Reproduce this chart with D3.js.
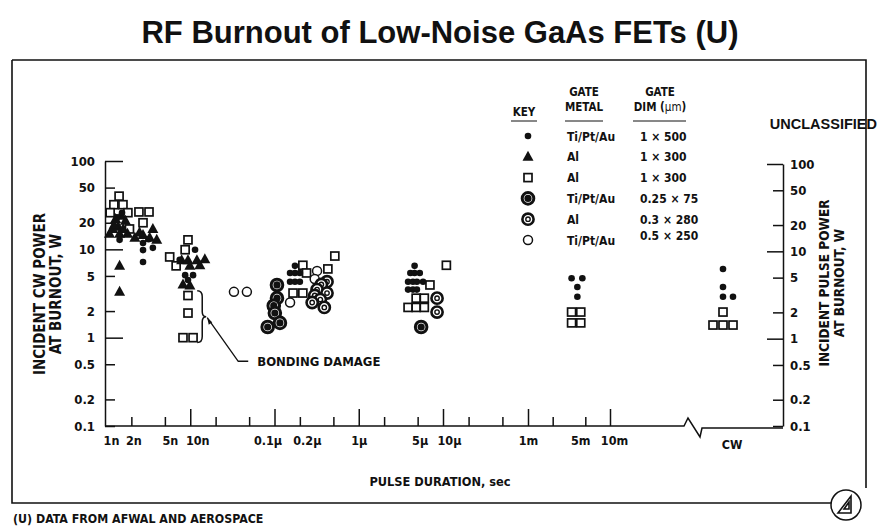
<!DOCTYPE html>
<html>
<head>
<meta charset="utf-8">
<script src="https://cdn.jsdelivr.net/npm/d3@7"></script>
<style>
  html, body { margin: 0; padding: 0; background: #fff; }
  svg { display: block; }
</style>
</head>
<body>
<svg id="chart" width="878" height="529"></svg>
<script>
// ---- axis ticks ----
const yTicks = [0.1, 0.2, 0.5, 1, 2, 5, 10, 20, 50, 100];
const yTickLabels = ["0.1", "0.2", "0.5", "1", "2", "5", "10", "20", "50", "100"];
const yMajor = [1, 10, 100];
const xTicks = [1e-9, 2e-9, 5e-9, 1e-8, 2e-8, 5e-8, 1e-7, 2e-7, 5e-7, 1e-6, 2e-6, 5e-6, 1e-5, 4e-5, 2.5e-4, 1e-3, 2e-3, 5e-3, 1e-2];
const xMajor = [1e-8, 1e-7, 1e-6, 1e-5, 1e-3, 1e-2];
const xLabelValues = [1e-9, 2e-9, 5e-9, 1e-8, 1e-7, 2e-7, 1e-6, 5e-6, 1e-5, 1e-3, 5e-3, 1e-2];
const xLabelTexts = ["1n", "2n", "5n", "10n", "0.1\u03bc", "0.2\u03bc", "1\u03bc", "5\u03bc", "10\u03bc", "1m", "5m", "10m"];

// ---- key ----
const keyKinds = ["dot", "tri", "sq", "ringDot", "ringRing", "open"];
const keyMetals = ["Ti/Pt/Au", "Al", "Al", "Ti/Pt/Au", "Al", "Ti/Pt/Au"];
const keyDims = ["1 \u00d7 500", "1 \u00d7 300", "1 \u00d7 300", "0.25 \u00d7 75", "0.3 \u00d7 280", "0.5 \u00d7 250"];

// ---- burnout data: [pulse duration (s), incident power (W)] ----
const tiPtAu1x500 = [
  [1.45e-9, 12.8], [1.55e-9, 26], [1.35e-9, 23],
  [2.75e-9, 11.8], [2.75e-9, 9.8], [3.6e-9, 10.4], [2.75e-9, 7.2], [3.2e-9, 13],
  [11.4e-9, 9.9], [7.5e-9, 7.6], [8.7e-9, 5.1], [10.8e-9, 5.1], [9.4e-9, 4.5],
  [0.175e-6, 6.5], [0.153e-6, 5.4], [0.175e-6, 5.4], [0.2e-6, 5.4], [0.153e-6, 4.3], [0.175e-6, 4.3], [0.2e-6, 4.3],
  [4.6e-6, 6.5], [4.1e-6, 5.4], [4.6e-6, 5.4], [5.3e-6, 5.4], [3.85e-6, 4.3], [4.4e-6, 4.3], [4.9e-6, 4.3], [5.8e-6, 4.3],
  [3.85e-6, 3.5], [4.4e-6, 3.5], [4.9e-6, 3.5],
  [3.4e-3, 4.7], [4.6e-3, 4.7], [4.0e-3, 3.75], [4.0e-3, 2.9]
];
const al1x300Solid = [
  [1.2e-9, 17], [1.4e-9, 18], [1.6e-9, 17], [1.3e-9, 22], [1.5e-9, 24], [1.7e-9, 21], [1.1e-9, 15], [1.45e-9, 15],
  [1.8e-9, 15], [1.25e-9, 19], [1.45e-9, 6.5], [1.45e-9, 3.3],
  [2.2e-9, 13.5], [2.75e-9, 14.5], [3.6e-9, 17], [3.3e-9, 13.5], [4.0e-9, 12.8], [2.5e-9, 15.5],
  [7.9e-9, 7.5], [9.4e-9, 7.5], [12e-9, 7.5], [14.9e-9, 7.7], [9.9e-9, 6.5], [13e-9, 6.6], [8.2e-9, 4.0], [9.9e-9, 3.9]
];
const al1x300Open = [
  [1.43e-9, 40], [1.24e-9, 32], [1.59e-9, 32], [1.12e-9, 26], [1.82e-9, 26], [1.9e-9, 17],
  [2.46e-9, 26.5], [3.24e-9, 26.5], [2.75e-9, 20],
  [9.4e-9, 12.8], [8.7e-9, 9.9], [5.7e-9, 8.2], [6.8e-9, 6.5], [9.4e-9, 3.0], [9.4e-9, 1.9], [8.2e-9, 1.0], [10.8e-9, 1.0],
  [0.217e-6, 6.6], [0.24e-6, 5.4], [0.166e-6, 3.2], [0.217e-6, 3.2], [0.43e-6, 6.0], [0.52e-6, 8.4],
  [7.0e-6, 3.95], [4.8e-6, 2.8], [6.0e-6, 2.8], [3.85e-6, 2.2], [4.8e-6, 2.2], [6.0e-6, 2.2], [12e-6, 6.6],
  [3.4e-3, 1.95], [4.4e-3, 1.95], [3.4e-3, 1.47], [4.4e-3, 1.47]
];
const tiPtAu025x75 = [
  [0.107e-6, 3.95], [0.107e-6, 2.8], [0.098e-6, 2.3], [0.101e-6, 1.9], [0.116e-6, 1.47], [0.083e-6, 1.32],
  [5.5e-6, 1.32]
];
const al03x280 = [
  [0.42e-6, 4.3], [0.36e-6, 4.0], [0.32e-6, 3.5], [0.42e-6, 3.2], [0.30e-6, 3.0], [0.35e-6, 2.7], [0.28e-6, 2.5], [0.39e-6, 2.2],
  [8.5e-6, 2.8], [8.5e-6, 1.95]
];
const tiPtAu05x250 = [
  [33e-9, 3.3], [47e-9, 3.3], [0.32e-6, 5.7], [0.3e-6, 4.6], [0.153e-6, 2.5]
];
// CW tests: [column in the CW stack, incident power (W)]
const cwTiPtAu1x500 = [[0, 6.0], [0, 3.75], [0, 2.9], [1, 2.9]];
const cwAl1x300Open = [[0, 1.95], [-1, 1.39], [0, 1.39], [1, 1.39]];

// ---- layout ----
const svg = d3.select("#chart");
const COND = "'Liberation Sans Narrow','DejaVu Sans Condensed','Arial Narrow',sans-serif";
const WIDE = "'Liberation Sans',Arial,Helvetica,sans-serif";
const ink = "#111";

const plotLeft = 105, plotRight = 783, plotBottom = 426;
const y = d3.scaleLog().domain([0.1, 100]).range([plotBottom, 161]);
const yR = d3.scaleLog().domain([0.1, 100]).range([plotBottom, 164]);
// pulse-duration axis: log decades, with the 10 µs – 1 ms span drawn as one decade width
const x = d3.scaleLog()
  .domain([1e-9, 1e-5, 1e-3, 1e-2])
  .range([106, 443, 528, 610]);
const cwX = d3.scaleLinear().domain([-1, 1]).range([713, 733]);

// title
svg.append("text")
  .attr("x", 440).attr("y", 43)
  .attr("text-anchor", "middle")
  .style("font-family", WIDE).style("font-weight", "bold").style("font-size", "31px")
  .attr("fill", ink)
  .text("RF Burnout of Low-Noise GaAs FETs (U)");

// frame
svg.append("path")
  .attr("d", "M12,60H866V488M12,60V503H831")
  .attr("fill", "none").attr("stroke", ink).attr("stroke-width", 1.6);

// badge on the frame corner
const badge = svg.append("g").attr("transform", "translate(846,505)");
badge.append("circle").attr("r", 15).attr("fill", "#fff").attr("stroke", ink).attr("stroke-width", 1.5);
badge.append("path").attr("d", "M-8,8L5,-9L5,8Z M-2,4L3,-3L3,4Z")
  .attr("fill", "none").attr("stroke", ink).attr("stroke-width", 1.6);

svg.append("text")
  .attr("x", 877).attr("y", 129).attr("text-anchor", "end")
  .style("font-family", WIDE).style("font-weight", "bold").style("font-size", "14.5px")
  .attr("fill", ink).text("UNCLASSIFIED");

svg.append("text")
  .attr("x", 13).attr("y", 523)
  .style("font-family", COND).style("font-weight", "bold").style("font-size", "12.3px")
  .attr("fill", ink).text("(U) DATA FROM AFWAL AND AEROSPACE");

// ---- axes ----
function styleAxis(g, size) {
  g.selectAll("text").style("font-family", COND).style("font-weight", "bold").style("font-size", size).attr("fill", ink);
  g.selectAll("line,path").attr("stroke", ink).attr("stroke-width", 1.5);
}

const yFmt = v => yTickLabels[yTicks.indexOf(v)];
const leftAxis = svg.append("g").attr("transform", `translate(${plotLeft},0)`)
  .call(d3.axisLeft(y).tickValues(yTicks).tickFormat(yFmt).tickSize(-10).tickSizeOuter(0).tickPadding(10));
leftAxis.selectAll(".tick line").attr("x2", d => yMajor.includes(d) ? 18 : 10);
styleAxis(leftAxis, "13px");

const rightAxis = svg.append("g").attr("transform", `translate(${plotRight},0)`)
  .call(d3.axisRight(yR).tickValues(yTicks).tickFormat(yFmt).tickSize(-10).tickSizeOuter(0).tickPadding(7));
rightAxis.selectAll(".tick line").attr("x2", d => yMajor.includes(d) ? -16 : -10);
styleAxis(rightAxis, "13px");

// paired labels sit a little apart from their ticks so they read separately
const xLabelNudge = { "1n": 5, "2n": 2, "5n": 5, "10n": 7, "0.1\u03bc": -7, "0.2\u03bc": 7, "5\u03bc": 2, "10\u03bc": 6, "5m": -5, "10m": 4 };
const xFmt = v => { const i = xLabelValues.indexOf(v); return i < 0 ? "" : xLabelTexts[i]; };
const bottomAxis = svg.append("g").attr("transform", `translate(0,${plotBottom})`)
  .call(d3.axisBottom(x).tickValues(xTicks).tickFormat(xFmt).tickSize(-9).tickPadding(10));
bottomAxis.select(".domain").remove();
bottomAxis.selectAll(".tick line").attr("y2", d => xMajor.includes(d) ? -17 : (d === 1e-9 ? 0 : -9));
bottomAxis.selectAll(".tick text").attr("dx", d => xLabelNudge[xFmt(d)] || 0);
styleAxis(bottomAxis, "12.5px");

// axis baseline with the break before CW
const brk = 684;
svg.append("path")
  .attr("d", `M${plotLeft},${plotBottom}H${brk}L${brk + 4},${plotBottom - 8}L${brk + 16},${plotBottom + 11}L${brk + 18},${plotBottom + 2}H${plotRight}`)
  .attr("fill", "none").attr("stroke", ink).attr("stroke-width", 1.5).attr("stroke-linejoin", "miter");

svg.append("text")
  .attr("x", cwX(0.9)).attr("y", plotBottom + 23)
  .attr("text-anchor", "middle")
  .style("font-family", COND).style("font-weight", "bold").style("font-size", "12.5px")
  .attr("fill", ink).text("CW");

svg.append("text")
  .attr("x", 440).attr("y", 486).attr("text-anchor", "middle")
  .style("font-family", COND).style("font-weight", "bold").style("font-size", "12.7px")
  .attr("fill", ink).text("PULSE DURATION, sec");

function axisTitle(cx, cy, size, gap, lines) {
  const t = svg.append("text")
    .attr("transform", `translate(${cx},${cy}) rotate(-90)`)
    .attr("text-anchor", "middle")
    .style("font-family", COND).style("font-weight", "bold").style("font-size", size)
    .attr("fill", ink);
  lines.forEach((s, i) => t.append("tspan").attr("x", 0).attr("dy", i === 0 ? 0 : gap).text(s));
}
axisTitle(45, 294, "15px", 16, ["INCIDENT CW POWER", "AT BURNOUT, W"]);
axisTitle(829, 283, "13.5px", 15, ["INCIDENT PULSE POWER", "AT BURNOUT, W"]);

// ---- marks ----
function mark(g, kind, px, py) {
  if (kind === "dot") {
    g.append("circle").attr("cx", px).attr("cy", py).attr("r", 3.3).attr("fill", ink);
  } else if (kind === "tri") {
    g.append("path").attr("d", `M${px},${py - 6}L${px + 5.5},${py + 4}L${px - 5.5},${py + 4}Z`).attr("fill", ink);
  } else if (kind === "sq") {
    g.append("rect").attr("x", px - 4).attr("y", py - 4).attr("width", 8).attr("height", 8)
      .attr("fill", "#fff").attr("stroke", ink).attr("stroke-width", 1.7);
  } else if (kind === "ringDot") {
    g.append("circle").attr("cx", px).attr("cy", py).attr("r", 5.8).attr("fill", "#fff").attr("stroke", ink).attr("stroke-width", 3);
    g.append("circle").attr("cx", px).attr("cy", py).attr("r", 3.6).attr("fill", ink);
  } else if (kind === "ringRing") {
    g.append("circle").attr("cx", px).attr("cy", py).attr("r", 5.6).attr("fill", "#fff").attr("stroke", ink).attr("stroke-width", 2.6);
    g.append("circle").attr("cx", px).attr("cy", py).attr("r", 2.2).attr("fill", "#fff").attr("stroke", ink).attr("stroke-width", 1.4);
  } else if (kind === "open") {
    g.append("circle").attr("cx", px).attr("cy", py).attr("r", 4.5).attr("fill", "#fff").attr("stroke", ink).attr("stroke-width", 1.5);
  }
}

const marks = svg.append("g");
const series = [
  ["sq", al1x300Open], ["tri", al1x300Solid], ["dot", tiPtAu1x500],
  ["open", tiPtAu05x250], ["ringDot", tiPtAu025x75], ["ringRing", al03x280]
];
series.forEach(([kind, pts]) => pts.forEach(([d, w]) => mark(marks, kind, x(d), y(w))));
cwAl1x300Open.forEach(([c, w]) => mark(marks, "sq", cwX(c), y(w)));
cwTiPtAu1x500.forEach(([c, w]) => mark(marks, "dot", cwX(c), y(w)));

// ---- bonding-damage callout ----
const bx = x(13.5e-9), bTop = y(3.4), bBot = y(0.88), bMid = (bTop + bBot) / 2;
svg.append("path")
  .attr("d", `M${bx - 4},${bTop} Q${bx + 1},${bTop} ${bx + 1},${bTop + 6} V${bMid - 5} Q${bx + 1},${bMid} ${bx + 5},${bMid}` +
             ` Q${bx + 1},${bMid} ${bx + 1},${bMid + 5} V${bBot - 6} Q${bx + 1},${bBot} ${bx - 4},${bBot}`)
  .attr("fill", "none").attr("stroke", ink).attr("stroke-width", 1.5);
const ly = y(0.5) - 3;
svg.append("path")
  .attr("d", `M${bx + 6},${bMid + 1}L${bx + 37},${ly}H${bx + 47}`)
  .attr("fill", "none").attr("stroke", ink).attr("stroke-width", 1.3);
svg.append("path")
  .attr("d", `M${bx + 6},${bMid + 1}l1.5,7l3.5,-2.5Z`).attr("fill", ink);
svg.append("text")
  .attr("x", bx + 56).attr("y", ly + 5)
  .style("font-family", COND).style("font-weight", "bold").style("font-size", "13px")
  .attr("fill", ink).text("BONDING DAMAGE");

// ---- key ----
const keyRowY = d3.scaleLinear().domain([0, 5]).range([136, 240]);
const keyHead = svg.append("g").style("font-family", COND).style("font-weight", "bold").style("font-size", "11.5px").attr("fill", ink);
[["KEY", 524, 116], ["GATE", 584, 96], ["METAL", 584, 111], ["GATE", 660, 96]].forEach(([s, cx, by]) =>
  keyHead.append("text").attr("x", cx).attr("y", by).attr("text-anchor", "middle").text(s));
const dimHead = keyHead.append("text").attr("x", 660).attr("y", 111).attr("text-anchor", "middle");
dimHead.append("tspan").text("DIM (");
dimHead.append("tspan").style("font-weight", "normal").text("\u03bcm");
dimHead.append("tspan").text(")");
[[511, 537], [565, 603], [633, 686]].forEach(([a, b]) =>
  svg.append("line").attr("x1", a).attr("x2", b).attr("y1", 121).attr("y2", 121).attr("stroke", ink).attr("stroke-width", 1));

const keyG = svg.append("g");
keyKinds.forEach((k, i) => {
  const ry = keyRowY(i);
  mark(keyG, k, 528, ry);
  keyG.append("text").attr("x", 567).attr("y", ry + 4.5)
    .style("font-family", COND).style("font-weight", "bold").style("font-size", "12px").attr("fill", ink).text(keyMetals[i]);
  keyG.append("text").attr("x", 640).attr("y", ry + 4.5 - (i === 5 ? 5 : 0))
    .style("font-family", COND).style("font-weight", "bold").style("font-size", "12px").attr("fill", ink).text(keyDims[i]);
});
</script>
</body>
</html>
